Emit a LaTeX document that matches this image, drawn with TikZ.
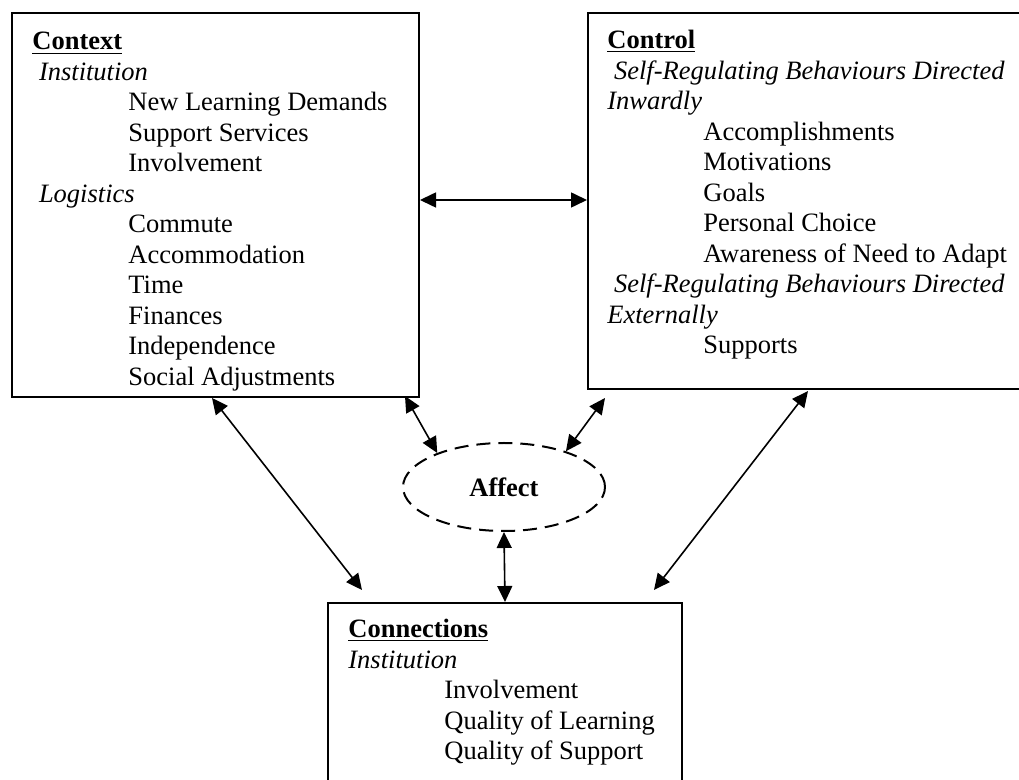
\documentclass[tikz,border=0pt]{standalone}
\usepackage{fontspec}
\setmainfont{Liberation Serif}
\usetikzlibrary{arrows.meta,shapes.geometric}

\newcommand{\itemind}{\hspace*{48pt}}
\newcommand{\headind}{\hspace*{3.3pt}}

\tikzset{
	frame/.style={draw, line width=1pt, inner sep=0pt, anchor=north west},
	boxtext/.style={align=left, inner sep=0pt, anchor=north west},
	link/.style={{Triangle[length=8pt,width=7.5pt]}-{Triangle[length=8pt,width=7.5pt]}, line width=0.8pt},
}

\begin{document}
\begin{tikzpicture}[x=0.5pt, y=-0.5pt, font=\fontsize{13.25pt}{15.25pt}\selectfont]
	\useasboundingbox (0,0) rectangle (1019,780);
	% the three boxes
	\node[frame, minimum width=203.5pt, minimum height=192pt] (context) at (11,12) {};
	\node[frame, minimum width=220pt, minimum height=188pt] (control) at (587,12) {};
	\node[frame, minimum width=177pt, minimum height=95pt] (connections) at (327,602) {};
	\node[boxtext] (contexttext) at ([shift={(21,20)}]context.north west) {%
		\underline{\textbf{Context}}\\
		\headind\textit{Institution}\\
		\itemind New Learning Demands\\
		\itemind Support Services\\
		\itemind Involvement\\
		\headind\textit{Logistics}\\
		\itemind Commute\\
		\itemind Accommodation\\
		\itemind Time\\
		\itemind Finances\\
		\itemind Independence\\
		\itemind Social Adjustments};
	\node[boxtext] (controltext) at ([shift={(20,18)}]control.north west) {%
		\underline{\textbf{Control}}\\
		\headind\textit{Self-Regulating Behaviours Directed}\\
		\textit{Inwardly}\\
		\itemind Accomplishments\\
		\itemind Motivations\\
		\itemind Goals\\
		\itemind Personal Choice\\
		\itemind Awareness of Need to Adapt\\
		\headind\textit{Self-Regulating Behaviours Directed}\\
		\textit{Externally}\\
		\itemind Supports};
	\node[boxtext] (connectionstext) at ([shift={(21,17)}]connections.north west) {%
		\underline{\textbf{Connections}}\\
		\textit{Institution}\\
		\itemind Involvement\\
		\itemind Quality of Learning\\
		\itemind Quality of Support};
	% affect in the middle
	\node[ellipse, draw, dashed, dash pattern=on 7pt off 4pt, line width=1pt,
		minimum width=101pt, minimum height=44pt, inner sep=0pt] (affect) at (504,487) {\textbf{Affect}};
	% two-way links
	\draw[link] ([shift={(0,188)}]context.north east) -- ([shift={(0,188)}]control.north west);
	\draw[link] ([shift={(201,0)}]context.south west) -- ([shift={(35,-12)}]connections.north west);
	\draw[link] ([shift={(-15,-2)}]context.south east) -- (affect.153);
	\draw[link] ([shift={(18,8)}]control.south west) -- (affect.30);
	\draw[link] ([shift={(221,1)}]control.south west) -- ([shift={(-29,-12)}]connections.north east);
	\draw[link] (affect.south) -- (connections.north);
\end{tikzpicture}
\end{document}
